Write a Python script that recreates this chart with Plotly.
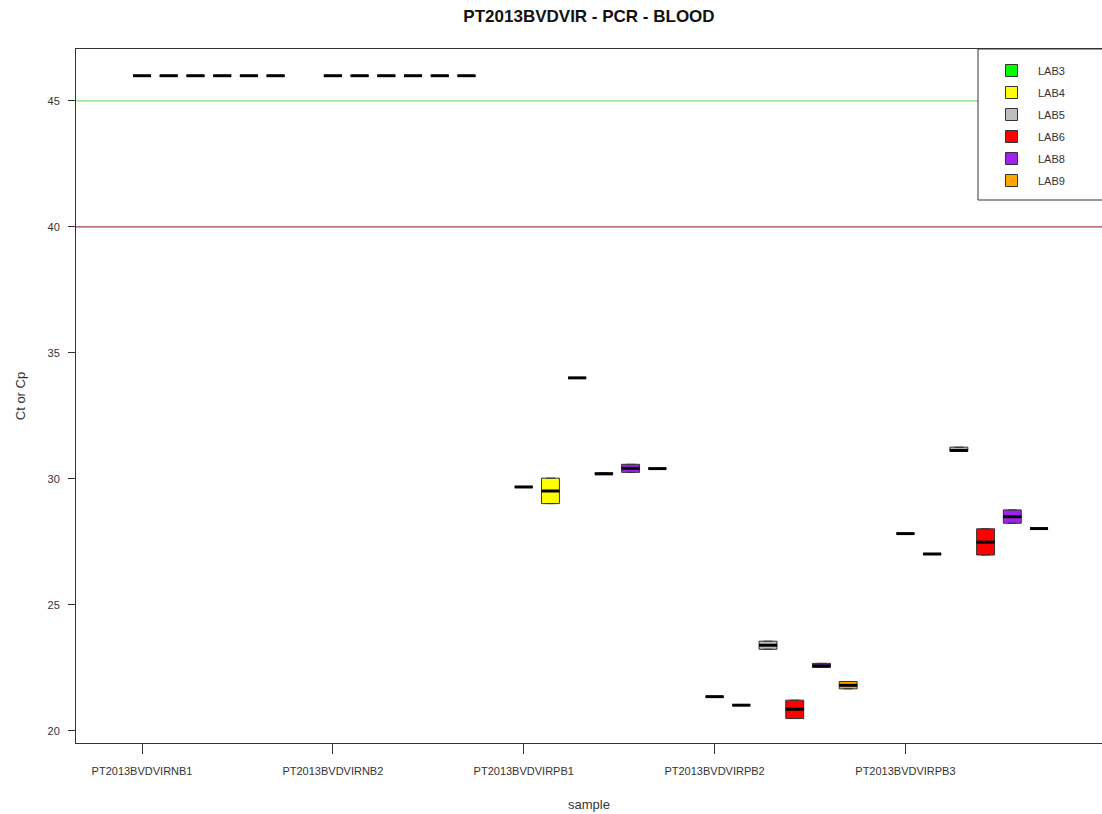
import plotly.graph_objects as go

samples = ["PT2013BVDVIRNB1", "PT2013BVDVIRNB2", "PT2013BVDVIRPB1",
           "PT2013BVDVIRPB2", "PT2013BVDVIRPB3"]
labs = ["LAB3", "LAB4", "LAB5", "LAB6", "LAB8", "LAB9"]
lab_colors = ["#00FF00", "#FFFF00", "#BEBEBE", "#FF0000", "#A020F0", "#FFA500"]

# per-lab box statistics for each sample (q1, median, q3)
q1 = {
    "LAB3": [46, 46, 29.68, 21.36, 27.83],
    "LAB4": [46, 46, 29.02, 21.02, 27.02],
    "LAB5": [46, 46, 34.01, 23.24, 31.10],
    "LAB6": [46, 46, 30.20, 20.49, 26.98],
    "LAB8": [46, 46, 30.26, 22.52, 28.24],
    "LAB9": [46, 46, 30.41, 21.67, 28.03],
}
median = {
    "LAB3": [46, 46, 29.68, 21.36, 27.83],
    "LAB4": [46, 46, 29.52, 21.02, 27.02],
    "LAB5": [46, 46, 34.01, 23.40, 31.13],
    "LAB6": [46, 46, 30.20, 20.86, 27.49],
    "LAB8": [46, 46, 30.42, 22.58, 28.50],
    "LAB9": [46, 46, 30.41, 21.81, 28.03],
}
q3 = {
    "LAB3": [46, 46, 29.68, 21.36, 27.83],
    "LAB4": [46, 46, 30.03, 21.02, 27.02],
    "LAB5": [46, 46, 34.01, 23.56, 31.26],
    "LAB6": [46, 46, 30.24, 21.22, 28.02],
    "LAB8": [46, 46, 30.58, 22.68, 28.77],
    "LAB9": [46, 46, 30.41, 21.96, 28.03],
}

upper_limit = 45
lower_limit = 40

lab_offset = 0.14
box_width = 0.094
FONT = "Liberation Sans, Arial, sans-serif"

fig = go.Figure()
positions = list(range(1, len(samples) + 1))
for j, lab in enumerate(labs):
    xs = [p + j * lab_offset for p in positions]
    fig.add_trace(go.Box(
        name=lab, x=xs, q1=q1[lab], median=median[lab], q3=q3[lab],
        lowerfence=q1[lab], upperfence=q3[lab],
        width=box_width, fillcolor=lab_colors[j],
        line=dict(color="#333333", width=1),
        legendgroup=lab, showlegend=True, boxpoints=False,
    ))
    fig.add_trace(go.Scatter(
        x=xs, y=median[lab], mode="markers", showlegend=False,
        legendgroup=lab, hoverinfo="skip",
        marker=dict(symbol="line-ew", size=12.9,
                    line=dict(color="black", width=3)),
    ))

fig.add_hline(y=upper_limit, line=dict(color="#55D855", width=1))
fig.add_hline(y=lower_limit, line=dict(color="#861828", width=1))

# legend frame (extends past the right edge as in the original)
fig.add_shape(type="rect", xref="paper", yref="paper",
              x0=(978 - 76) / 1026, x1=1.05, y0=(743 - 200) / 694, y1=1,
              fillcolor="white", line=dict(color="#333333", width=1),
              layer="above")

fig.update_layout(
    width=1102, height=814,
    margin=dict(l=76, r=0, t=49, b=71),
    paper_bgcolor="white", plot_bgcolor="white",
    font=dict(family=FONT, size=11, color="#333333"),
    title=dict(text="<b>PT2013BVDVIR - PCR - BLOOD</b>", xref="paper", x=0.5,
               xanchor="center", yref="container", y=1 - 16 / 814,
               yanchor="middle", font=dict(size=17, color="#111111")),
    boxmode="overlay",
    legend=dict(x=(985 - 76) / 1026, y=(743 - 56) / 694, xanchor="left",
                yanchor="top", borderwidth=0, bgcolor="rgba(0,0,0,0)",
                font=dict(size=11), tracegroupgap=3, itemwidth=43),
    showlegend=True,
)
fig.update_xaxes(
    range=[0.654, 6.03], tickmode="array", tickvals=positions, ticktext=samples,
    showgrid=False, zeroline=False, showline=True, linecolor="#333333",
    linewidth=1, mirror=True, ticks="outside", ticklen=10, tickcolor="#333333",
    ticklabelstandoff=8, automargin=False,
    title=dict(text="sample", standoff=23, font=dict(size=13)),
)
fig.update_yaxes(
    range=[19.52, 47.06], tickvals=[20, 25, 30, 35, 40, 45],
    showgrid=False, zeroline=False, showline=True, linecolor="#333333",
    linewidth=1, ticks="outside", ticklen=7, tickcolor="#333333",
    ticklabelstandoff=6, automargin=False,
    title=dict(text="Ct or Cp", standoff=18, font=dict(size=13)),
)

fig.write_html(
    "out.html",
    config={"displayModeBar": False},
    post_script="document.body.style.margin='0';"
                "document.documentElement.style.overflow='hidden';",
)
